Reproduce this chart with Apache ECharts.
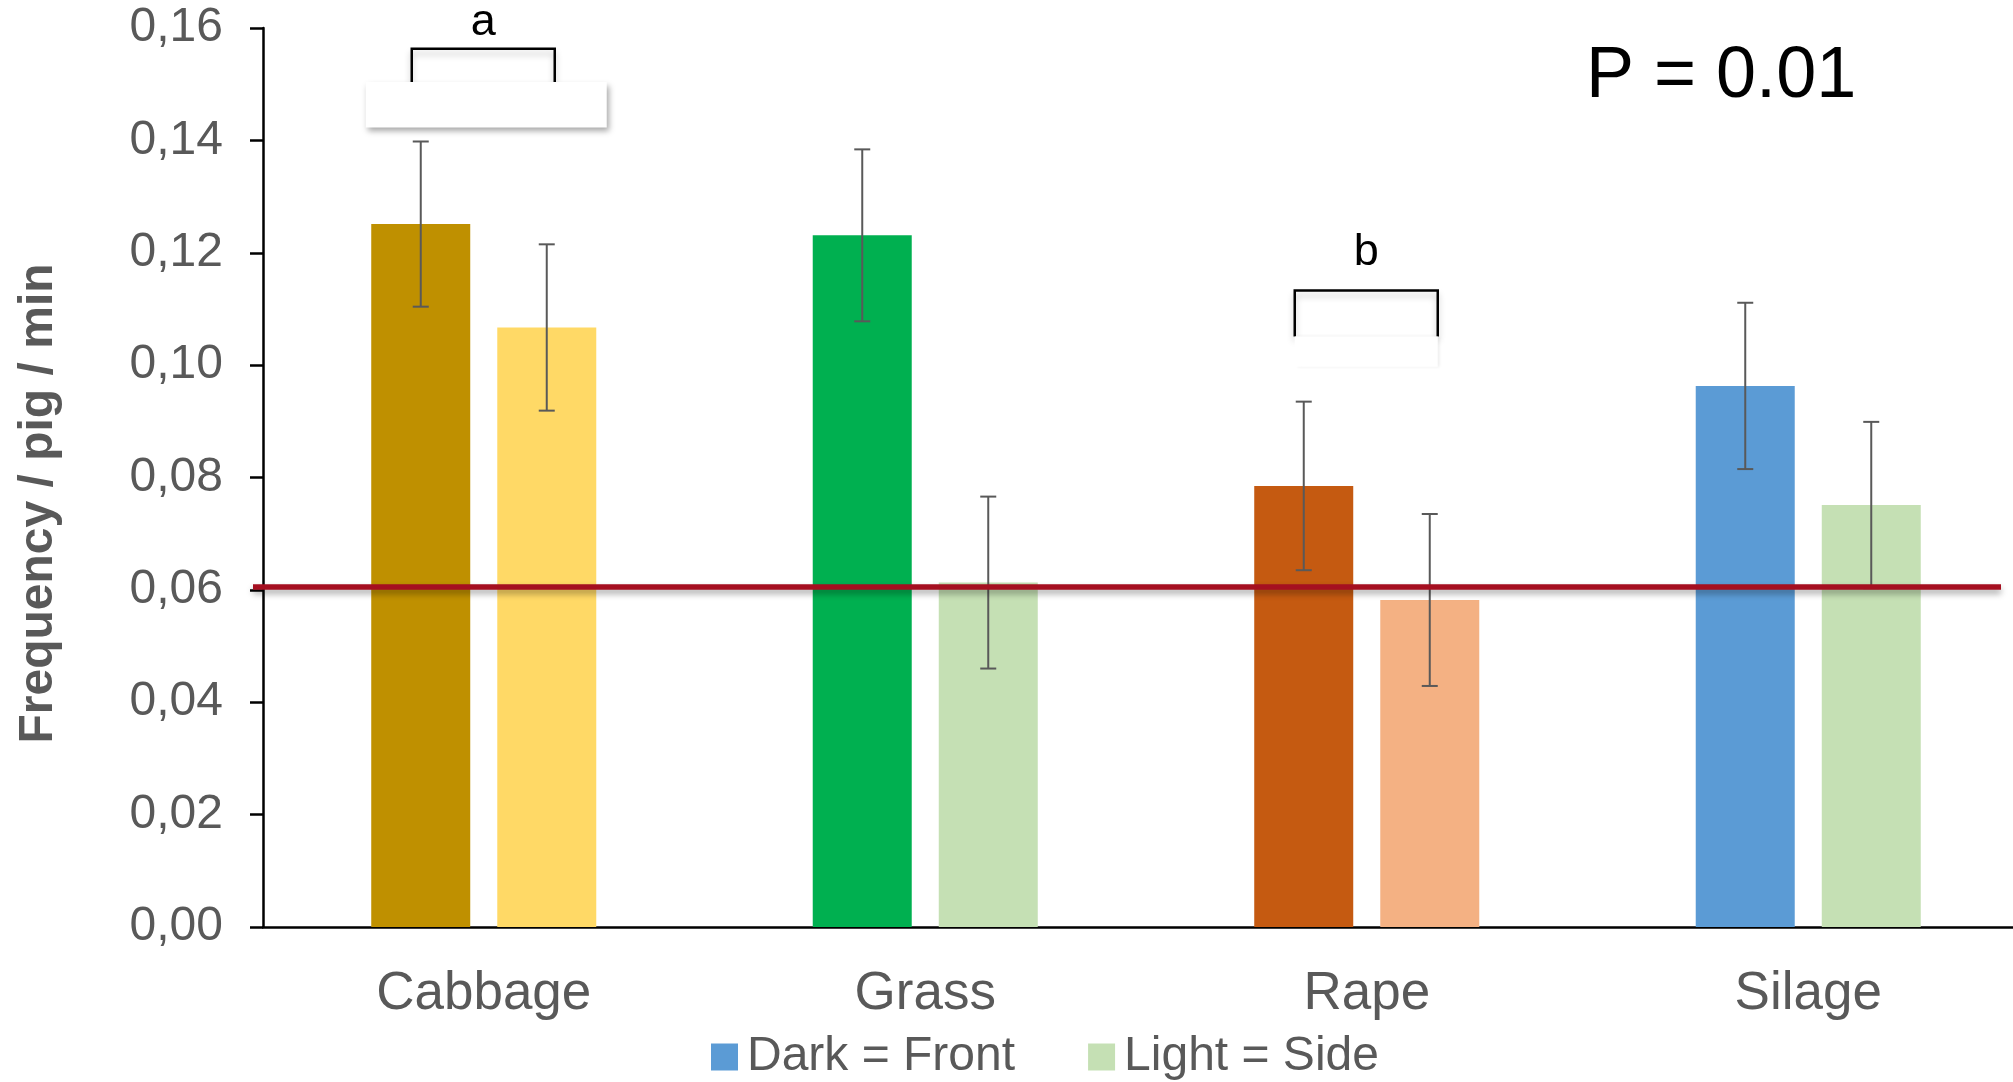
<!DOCTYPE html>
<html>
<head>
<meta charset="utf-8">
<title>Frequency / pig / min</title>
<script src="https://cdn.jsdelivr.net/npm/echarts@6/dist/echarts.min.js"></script>
<style>
  html, body { margin: 0; padding: 0; background: #ffffff; }
  #chart { width: 2013px; height: 1082px; }
</style>
</head>
<body>
<div id="chart"></div>
<script>
// ---- data ----
const categories = ['Cabbage', 'Grass', 'Rape', 'Silage'];
const frontVals = [0.1251, 0.1231, 0.0785, 0.0963];
const frontErr  = [0.0147, 0.0153, 0.0150, 0.0148];
const sideVals  = [0.1067, 0.0613, 0.0582, 0.0751];
const sideErr   = [0.0148, 0.0153, 0.0153, 0.0148];
const frontColors = ['#BF9000', '#00B050', '#C55A11', '#5B9BD5'];
const sideColors  = ['#FFD966', '#C5E0B4', '#F4B183', '#C5E0B4'];
const referenceLevel = 0.0606;
const yTicks = [0, 0.02, 0.04, 0.06, 0.08, 0.10, 0.12, 0.14, 0.16];

// significance brackets: category, bracket top, leg foot, letter and letter centre
const bracketCats  = [0, 2];
const bracketTop   = [0.1563, 0.1133];
const bracketFoot  = [0.1504, 0.1051];
const bracketLabel = ['a', 'b'];
const bracketLabelAt = [0.1610, 0.1201];
// blank cover boxes under the brackets (top value, bottom value)
const coverTop    = [0.1504, 0.1051];
const coverBottom = [0.1423, 0.0997];

// ---- layout constants ----
const FONT = '"Liberation Sans", Arial, Helvetica, sans-serif';
const GREY = '#595959';
const BAR_W = 99;
const BAR_GAP_PX = 27;
const HALF_PAIR = (BAR_W + BAR_GAP_PX) / 2;
const GRID = { left: 263, width: 1766, top: 28, bottom: 155, outerBoundsMode: 'none', containLabel: false };

const errData = [];
for (let i = 0; i < categories.length; i++) {
  errData.push([i, frontVals[i], frontErr[i], 0]);
  errData.push([i, sideVals[i], sideErr[i], 1]);
}

const bracketData = bracketCats.map((c, i) => [c, bracketTop[i], bracketFoot[i], bracketLabelAt[i], coverTop[i], coverBottom[i]]);

function renderErrorBar(params, api) {
  const cat = api.value(0), v = api.value(1), e = api.value(2), side = api.value(3);
  const base = api.coord([cat, v]);
  const x = base[0] + (side ? HALF_PAIR : -HALF_PAIR);
  const yTop = api.coord([cat, v + e])[1];
  const yBot = api.coord([cat, v - e])[1];
  const cap = 8;
  const style = { stroke: GREY, lineWidth: 2, fill: null };
  return {
    type: 'group',
    children: [
      { type: 'line', shape: { x1: x, y1: yTop, x2: x, y2: yBot }, style },
      { type: 'line', shape: { x1: x - cap, y1: yTop, x2: x + cap, y2: yTop }, style },
      { type: 'line', shape: { x1: x - cap, y1: yBot, x2: x + cap, y2: yBot }, style }
    ]
  };
}

function renderBracket(params, api) {
  const cat = api.value(0);
  const cx = api.coord([cat, 0])[0];
  const yTop = api.coord([cat, api.value(1)])[1];
  const yFoot = api.coord([cat, api.value(2)])[1];
  const yText = api.coord([cat, api.value(3)])[1];
  const yCoverTop = api.coord([cat, api.value(4)])[1];
  const yCoverBot = api.coord([cat, api.value(5)])[1];
  const first = params.dataIndex === 0;
  const x1 = cx - HALF_PAIR - 9;
  const x2 = cx + HALF_PAIR + 8;
  const coverX1 = first ? cx - 118 : x1;
  const coverX2 = first ? cx + 123 : x2;
  return {
    type: 'group',
    children: [
      {
        type: 'polyline',
        shape: { points: [[x1, yFoot], [x1, yTop], [x2, yTop], [x2, yFoot]] },
        style: { stroke: '#000000', lineWidth: 2.5, fill: null,
                 shadowColor: 'rgba(0,0,0,0.22)', shadowBlur: 6, shadowOffsetY: 5 }
      },
      {
        type: 'rect',
        shape: { x: coverX1, y: yCoverTop, width: coverX2 - coverX1, height: yCoverBot - yCoverTop },
        style: { fill: '#ffffff',
                 shadowColor: first ? 'rgba(0,0,0,0.35)' : 'rgba(0,0,0,0.07)',
                 shadowBlur: first ? 6 : 3, shadowOffsetX: 2, shadowOffsetY: first ? 4 : 0 }
      },
      {
        type: 'text',
        style: { text: bracketLabel[params.dataIndex],
                 x: (x1 + x2) / 2, y: yText, align: 'center', verticalAlign: 'middle',
                 fontFamily: FONT, fontSize: 45, fill: '#000000' }
      }
    ]
  };
}

const chart = echarts.init(document.getElementById('chart'));
chart.setOption({
  animation: false,
  backgroundColor: '#ffffff',
  grid: GRID,
  legend: {
    data: ['Dark = Front', 'Light = Side'],
    left: 711,
    top: 1031,
    padding: 0,
    icon: 'rect',
    itemWidth: 27,
    itemHeight: 27,
    itemGap: 73,
    textStyle: { fontFamily: FONT, fontSize: 48, color: GREY, lineHeight: 52, padding: [0, 0, 0, 4] }
  },
  xAxis: {
    type: 'category',
    data: categories,
    axisLine: { lineStyle: { color: '#000000', width: 2.5 } },
    axisTick: { show: false },
    axisLabel: { fontFamily: FONT, fontSize: 53, color: GREY, margin: 41 },
    splitLine: { show: false }
  },
  yAxis: {
    type: 'value',
    min: 0,
    max: 0.16,
    interval: 0.02,
    name: 'Frequency / pig / min',
    nameLocation: 'middle',
    nameRotate: 90,
    nameGap: 200,
    nameTextStyle: { fontFamily: FONT, fontSize: 48, fontWeight: 'bold', color: GREY, padding: [0, 52, 0, 0] },
    axisLine: { show: true, lineStyle: { color: '#000000', width: 2.5 } },
    axisTick: { show: true, inside: false, length: 13, lineStyle: { color: '#000000', width: 2.5 } },
    axisLabel: {
      fontFamily: FONT, fontSize: 48, color: GREY, margin: 40,
      formatter: v => {
        const t = yTicks.find(k => Math.abs(k - v) < 1e-9);
        return (t === undefined ? v : t).toFixed(2).replace('.', ',');
      }
    },
    splitLine: { show: false }
  },
  graphic: [
    {
      type: 'text',
      left: 1586,
      top: 41,
      style: { text: 'P = 0.01', fontFamily: FONT, fontSize: 72, fill: '#000000' }
    }
  ],
  series: [
    {
      name: 'Dark = Front',
      type: 'bar',
      barWidth: BAR_W,
      barGap: (BAR_GAP_PX / BAR_W * 100).toFixed(1) + '%',
      itemStyle: { color: '#5B9BD5' },
      data: frontVals.map((v, i) => ({ value: v, itemStyle: { color: frontColors[i] } })),
      z: 2,
      markLine: {
        silent: true,
        symbol: 'none',
        z: 10,
        label: { show: false },
        lineStyle: { color: '#A50F20', width: 5.5, type: 'solid',
                     shadowColor: 'rgba(0,0,0,0.35)', shadowBlur: 6, shadowOffsetY: 4 },
        emphasis: { disabled: true },
        data: [[{ x: GRID.left - 10, yAxis: referenceLevel }, { x: 2001, yAxis: referenceLevel }]]
      }
    },
    {
      name: 'Light = Side',
      type: 'bar',
      barWidth: BAR_W,
      itemStyle: { color: '#C5E0B4' },
      data: sideVals.map((v, i) => ({ value: v, itemStyle: { color: sideColors[i] } })),
      z: 2
    },
    {
      name: 'errors',
      type: 'custom',
      renderItem: renderErrorBar,
      encode: { x: 0, y: 1 },
      data: errData,
      z: 4,
      silent: true
    },
    {
      name: 'brackets',
      type: 'custom',
      renderItem: renderBracket,
      encode: { x: 0, y: 1 },
      data: bracketData,
      z: 6,
      silent: true,
      clip: false
    }
  ]
});
</script>
</body>
</html>
